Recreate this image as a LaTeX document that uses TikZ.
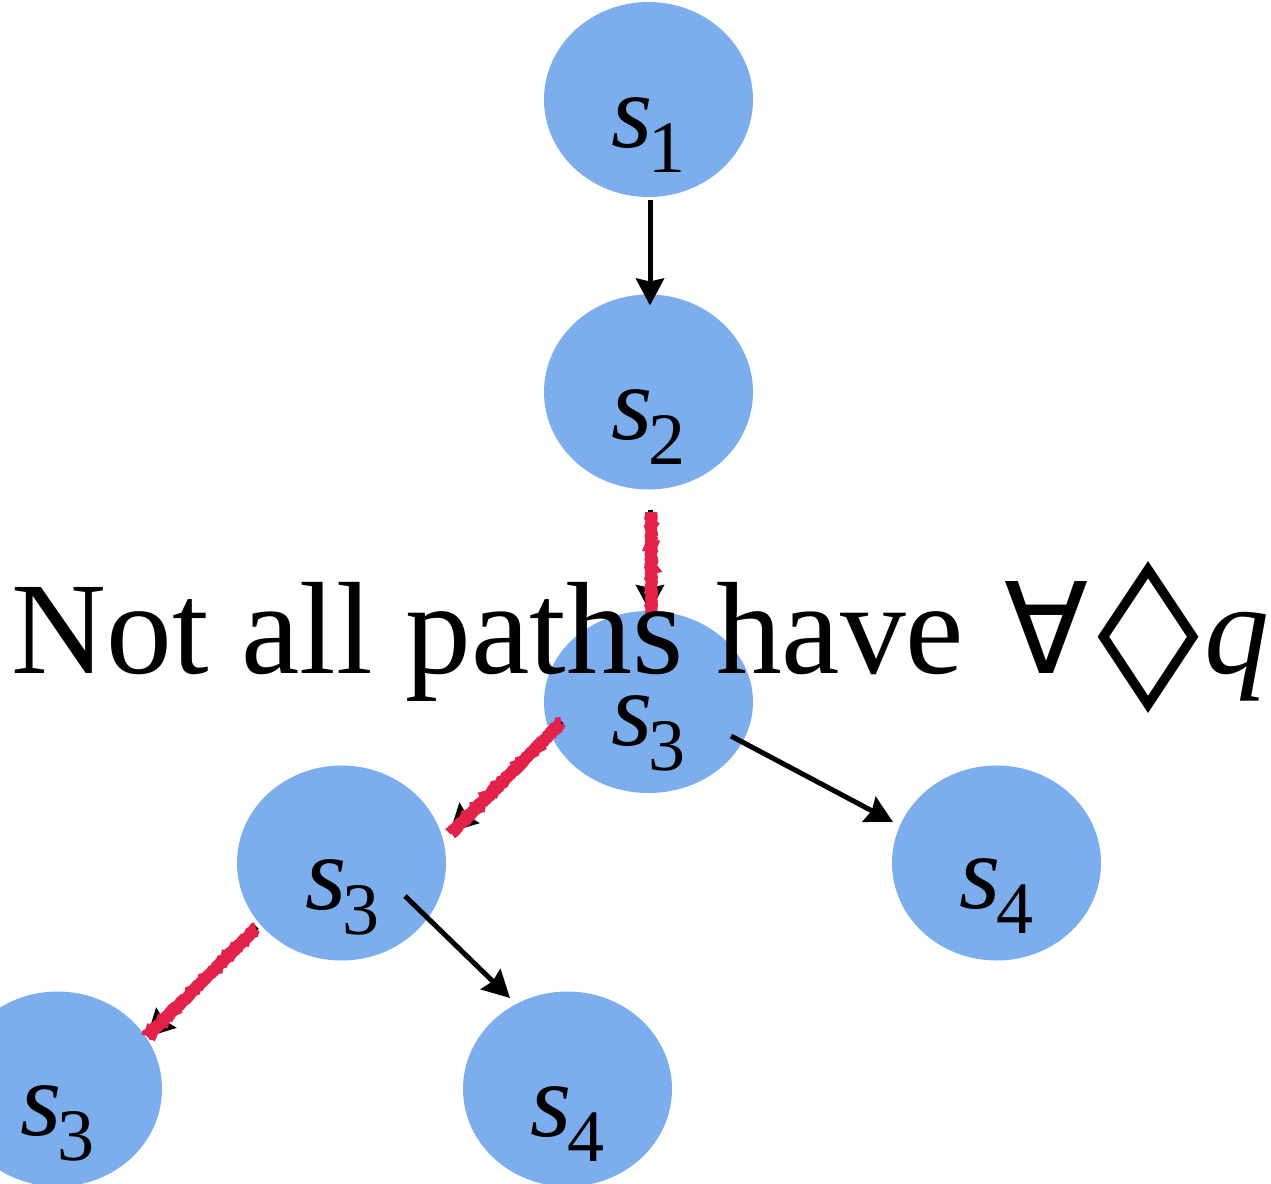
\documentclass[tikz,border=0pt]{standalone}
\usepackage{fontspec}
\setmainfont{Liberation Serif}
\newfontfamily\symfont{DejaVu Sans}
\usetikzlibrary{shapes.geometric,arrows.meta,calc,decorations.pathmorphing}
\definecolor{nodeblue}{RGB}{124,173,236}
\definecolor{hired}{RGB}{226,34,74}
\newcommand{\stlabel}[1]{{\fontsize{106}{106}\selectfont\itshape s}\kern-4pt\raisebox{-25pt}{\fontsize{74}{74}\selectfont #1}}
\begin{document}
\begin{tikzpicture}[x=1pt,y=-1pt,
  st/.style={ellipse, fill=nodeblue, minimum width=209pt, minimum height=195pt, inner sep=0pt},
  lab/.style={anchor=base west, inner sep=0pt},
  arr/.style={line width=5pt, -{Stealth[length=27pt,width=28pt,inset=3pt]}},
  hl/.style={draw=hired, line width=12pt, line cap=butt, decorate,
             decoration={random steps, segment length=1.5pt, amplitude=0.8pt}},
  big/.style={anchor=base west, inner sep=0pt}]
\useasboundingbox (0,0) rectangle (1271,1183);

% states
\node[st] (s1) at (648.5,99.5) {};
\node[st] (s2) at (648.5,392) {};
\node[st, minimum height=182pt] (s3) at (648.5,702) {};
\node[st] (s3l) at (341.5,863) {};
\node[st] (s4r) at (996.5,863) {};
\node[st] (s3b) at (57.5,1089) {};
\node[st] (s4b) at (567.5,1089) {};

% state labels
\node[lab] (l1) at ($(s1)+(-37,47.5)$) {\stlabel{1}};
\node[lab] (l2) at ($(s2)+(-37,47.5)$) {\stlabel{2}};
\node[lab] (l3) at ($(s3)+(-37,43)$) {\stlabel{3}};
\node[lab] (l3l) at ($(s3l)+(-36,46)$) {\stlabel{3}};
\node[lab] (l4r) at ($(s4r)+(-37,45)$) {\stlabel{4}};
\node[lab] (l3b) at ($(s3b)+(-37,46)$) {\stlabel{3}};
\node[lab] (l4b) at ($(s4b)+(-37,47)$) {\stlabel{4}};

% transitions
\draw[arr] ($(s1)+(1.5,100.5)$) -- ($(s2)+(1.5,-86.5)$);
\draw[arr] ($(s2)+(1.5,118)$) -- ($(s3)+(1.5,-90)$);
\draw[arr] ($(s3)+(-86.5,20)$) -- ($(s3l)+(108.5,-31)$);
\draw[arr] ($(s3l)+(-84.5,64)$) -- ($(s3b)+(89.5,-52)$);
\draw[arr] ($(s3)+(82.5,34)$) -- ($(s4r)+(-103.5,-41)$);
\draw[arr] ($(s3l)+(63.5,33)$) -- ($(s4b)+(-57.5,-91)$);

% highlighted path
\draw[hl] ($(s2)+(2.5,120)$) -- ($(s3)+(3,-90)$);
\draw[hl] ($(s3)+(-87.5,21)$) -- ($(s3l)+(110,-30)$);
\draw[hl] ($(s3l)+(-85.5,65)$) -- ($(s3b)+(90,-53)$);

% caption
\node[big] (cap) at (11.5,673) {\fontsize{131.4}{131.4}\selectfont Not all paths have};
\node[big] (fa) at (1004,673) {\resizebox{84pt}{92pt}{\symfont ∀}};
\node[anchor=center, inner sep=0pt] (dia) at (1148.5,638) {\resizebox{102pt}{118pt}{\symfont ◊}};
\node[big] (q) at (1204,673) {\fontsize{130}{130}\selectfont\itshape q};
\end{tikzpicture}
\end{document}
